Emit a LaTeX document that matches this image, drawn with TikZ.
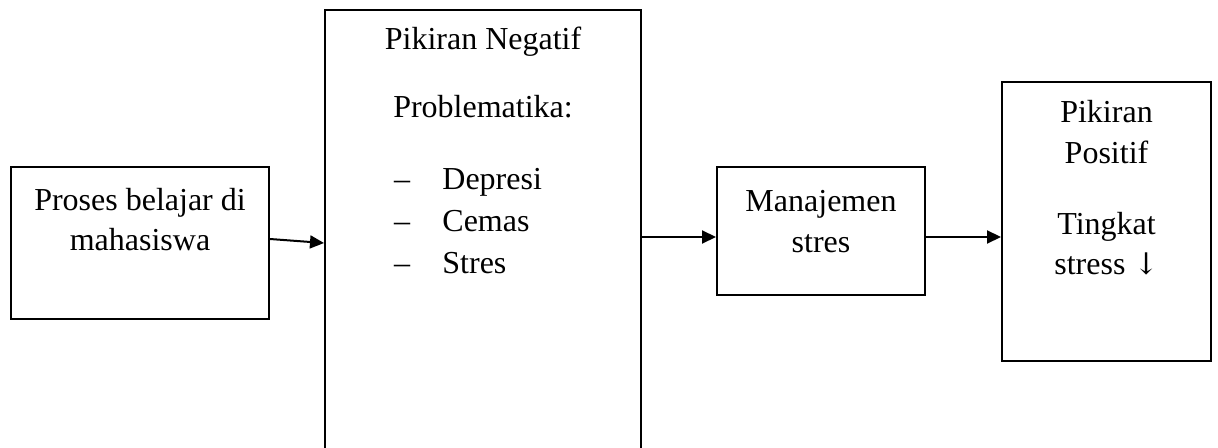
\documentclass[tikz,border=0pt]{standalone}
\usepackage{fontspec}
\setmainfont{Liberation Serif}
\newfontfamily\arrfont{DejaVu Serif}
\usetikzlibrary{arrows.meta,positioning,calc}
\tikzset{
  box/.style={draw=black,line width=1pt,rectangle,inner sep=0pt},
  txt/.style={font=\fontsize{16}{20.5}\selectfont,align=center,inner sep=0pt,anchor=base},
  itm/.style={font=\fontsize{16}{20.5}\selectfont,inner sep=0pt,anchor=base west},
  ar/.style={-{Triangle[length=7pt,width=6.5pt]},line width=1pt,black},
}
\begin{document}
\begin{tikzpicture}[x=0.5pt,y=-0.5pt]
  \useasboundingbox (0,0) rectangle (1218,448);
  % boxes
  \node[box,minimum width=129pt,minimum height=76pt] (proses) at (140,243) {};
  \node[box,minimum width=158pt,minimum height=225pt] (negatif) at (483,235) {};
  \node[box,minimum width=104pt,minimum height=64pt] (manaj) at (821,231) {};
  \node[box,minimum width=104.5pt,minimum height=139.5pt] (positif) at (1106.5,221.5) {};
  % texts (base = last line)
  \node[txt] (t1) at (140,251) {Proses belajar di\\mahasiswa};
  \node[txt] (t2) at (483,50) {Pikiran Negatif};
  \node[txt] (t3) at (483,118) {Problematika:};
  \foreach \y/\w [count=\i] in {190/Depresi,232/Cemas,273/Stres}{
    \node[txt] (d\i) at (402,\y) {--};
    \node[itm] (i\i) at (442,\y) {\w};
  }
  \node[txt] (t4) at (821,253) {Manajemen\\stres};
  \node[txt] (t5) at (1106.5,164) {Pikiran\\Positif};
  \node[txt] (t6) at (1106.5,275) {Tingkat\\stress {\arrfont\fontsize{15}{20.5}\selectfont ↓}};
  % connectors
  \coordinate (a1) at ([yshift=2pt]proses.east);
  \coordinate (a2) at ([yshift=-3pt]manaj.west);
  \coordinate (a3) at ([yshift=-3pt]manaj.east);
  \draw[ar] (a1) -- (proses.east -| negatif.west);
  \draw[ar] (a2 -| negatif.east) -- (a2);
  \draw[ar] (a3) -- (a3 -| positif.west);
\end{tikzpicture}
\end{document}
